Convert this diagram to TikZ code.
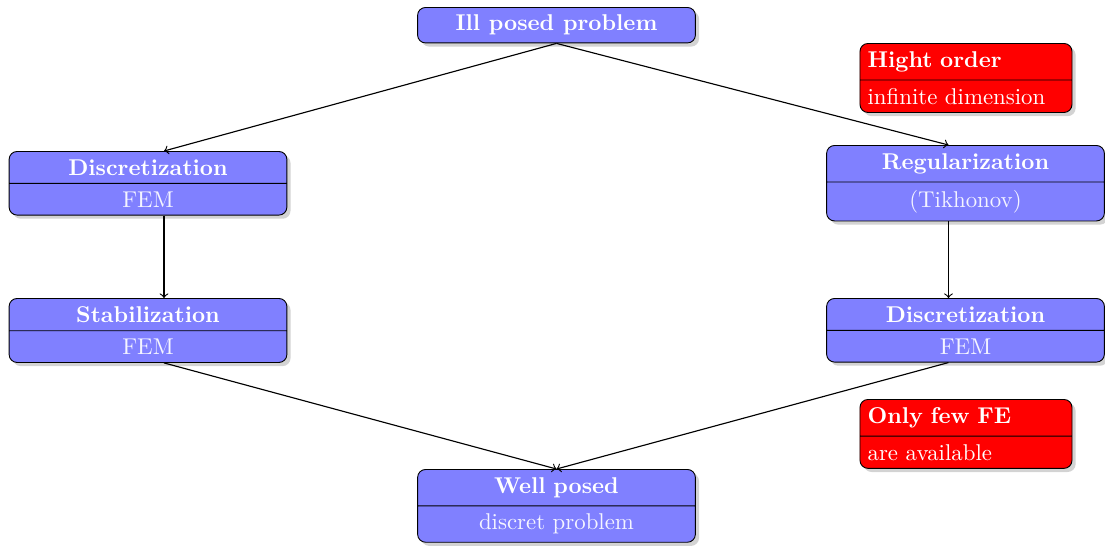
\documentclass[tikz,border=0pt]{standalone}
\usetikzlibrary{shapes.multipart,shadows,calc}
\begin{document}
\begin{tikzpicture}[x=0.438pt,y=-0.438pt,
  shad/.style={drop shadow={shadow xshift=1.6pt, shadow yshift=-1.6pt, opacity=0.35}},
  bluebox/.style={draw=black, fill=blue!50, rounded corners=3.5pt, shad,
    rectangle split, rectangle split parts=2, text width=115pt, align=center,
    font=\bfseries, text=white, anchor=north, inner sep=3.33pt},
  topbox/.style={draw=black, fill=blue!50, rounded corners=3.5pt, shad,
    minimum width=121.7pt, font=\bfseries, text=white, anchor=north, inner sep=3.33pt},
  redbox/.style={draw=black, fill=red, rounded corners=3.5pt, shad,
    rectangle split, rectangle split parts=2, text width=86.2pt, align=left,
    font=\bfseries, text=white, anchor=north, inner sep=3.33pt},
  arr/.style={->, line width=0.5pt}]
\useasboundingbox (0,0) rectangle (1105,549);
\node[topbox] (ill) at (556.5,7) {Ill posed problem};
\node[bluebox] (discL) at (148,151) {Discretization\nodepart{two}\mdseries\color{blue!4}FEM};
\node[bluebox] (stab) at (148,298) {Stabilization\nodepart{two}\mdseries\color{blue!4}FEM};
\node[bluebox] (reg) at (965.5,145) {Regularization\nodepart{two}\mdseries\color{blue!4}(Tikhonov)};
\node[bluebox] (discR) at (965.5,298) {Discretization\nodepart{two}\mdseries\color{blue!4}FEM};
\node[bluebox] (well) at (556.5,469) {Well posed\nodepart{two}\mdseries\color{blue!4}discret problem};
\node[redbox] (high) at (966,43) {Hight order\nodepart{two}\mdseries infinite dimension};
\node[redbox] (few) at (966,399) {Only few FE\nodepart{two}\mdseries are available};
\draw[arr] (ill.south) -- ($(discL.north)+(16,0)$);
\draw[arr] (ill.south) -- ($(reg.north)+(-17,0)$);
\draw[arr] ($(discL.south)+(16,0)$) -- ($(stab.north)+(16,0)$);
\draw[arr] ($(reg.south)+(-17,0)$) -- ($(discR.north)+(-17,0)$);
\draw[arr] ($(stab.south)+(16,0)$) -- (well.north);
\draw[arr] ($(discR.south)+(-17,0)$) -- (well.north);
\end{tikzpicture}
\end{document}
